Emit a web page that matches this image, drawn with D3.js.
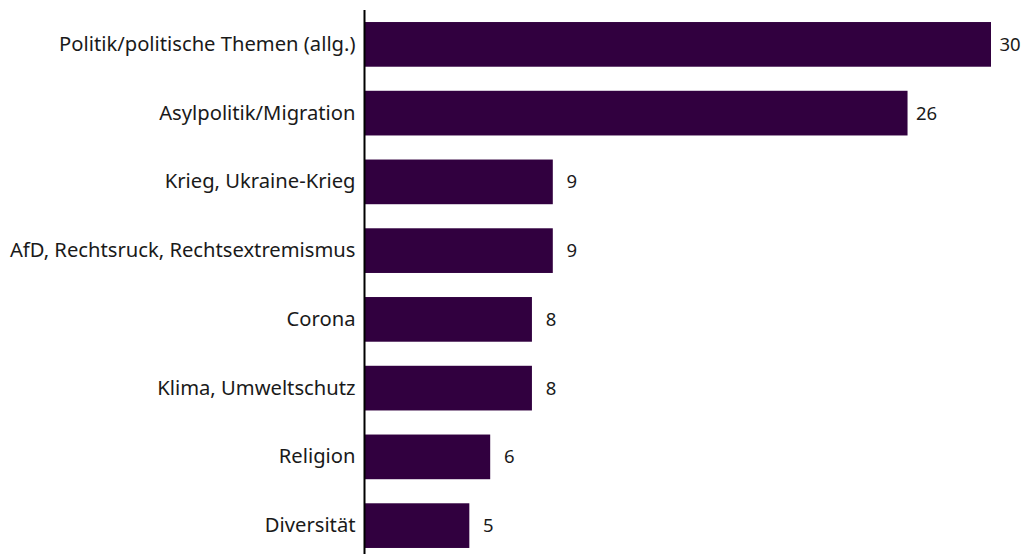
<!DOCTYPE html>
<html>
<head>
<meta charset="utf-8">
<script src="https://cdn.jsdelivr.net/npm/d3@7"></script>
<style>
  html, body { margin: 0; padding: 0; background: #ffffff; }
  svg { display: block; }
</style>
</head>
<body>
<script>
// Topics and their shares
const categories = [
  "Politik/politische Themen (allg.)",
  "Asylpolitik/Migration",
  "Krieg, Ukraine-Krieg",
  "AfD, Rechtsruck, Rechtsextremismus",
  "Corona",
  "Klima, Umweltschutz",
  "Religion",
  "Diversität"
];
const values = [30, 26, 9, 9, 8, 8, 6, 5];

const W = 1024, H = 554;
const FONT = "'Noto Sans', sans-serif";
const BAR = "#31003f";
const INK = "#1a1a1a";

const svg = d3.select("body").append("svg")
  .attr("width", W).attr("height", H);

const x = d3.scaleLinear().domain([0, 30]).range([365, 991]);
const y = d3.scaleBand().domain(categories).range([10, 560])
  .paddingInner(0.35).paddingOuter(0.175);

// bars
svg.append("g").selectAll("rect")
  .data(values)
  .join("rect")
  .attr("x", x(0))
  .attr("y", (d, i) => y(categories[i]))
  .attr("width", d => x(d) - x(0))
  .attr("height", y.bandwidth())
  .attr("fill", BAR);

// value labels
svg.append("g").selectAll("text")
  .data(values)
  .join("text")
  .attr("x", d => x(d) + 19)
  .attr("y", (d, i) => y(categories[i]) + y.bandwidth() / 2)
  .attr("dy", "0.35em")
  .attr("text-anchor", "middle")
  .attr("font-family", FONT)
  .attr("font-size", 18.5)
  .attr("fill", INK)
  .text(d => d);

// category axis
const axis = svg.append("g")
  .attr("transform", `translate(${x(0) - 0.5},0)`)
  .call(d3.axisLeft(y).tickSize(0).tickPadding(9));
axis.select(".domain").remove();
axis.selectAll("text")
  .attr("font-family", FONT)
  .attr("font-size", 20.2)
  .attr("fill", INK);
axis.append("line")
  .attr("x1", 0).attr("x2", 0)
  .attr("y1", 10).attr("y2", H)
  .attr("stroke", "#000").attr("stroke-width", 2);
</script>
</body>
</html>
